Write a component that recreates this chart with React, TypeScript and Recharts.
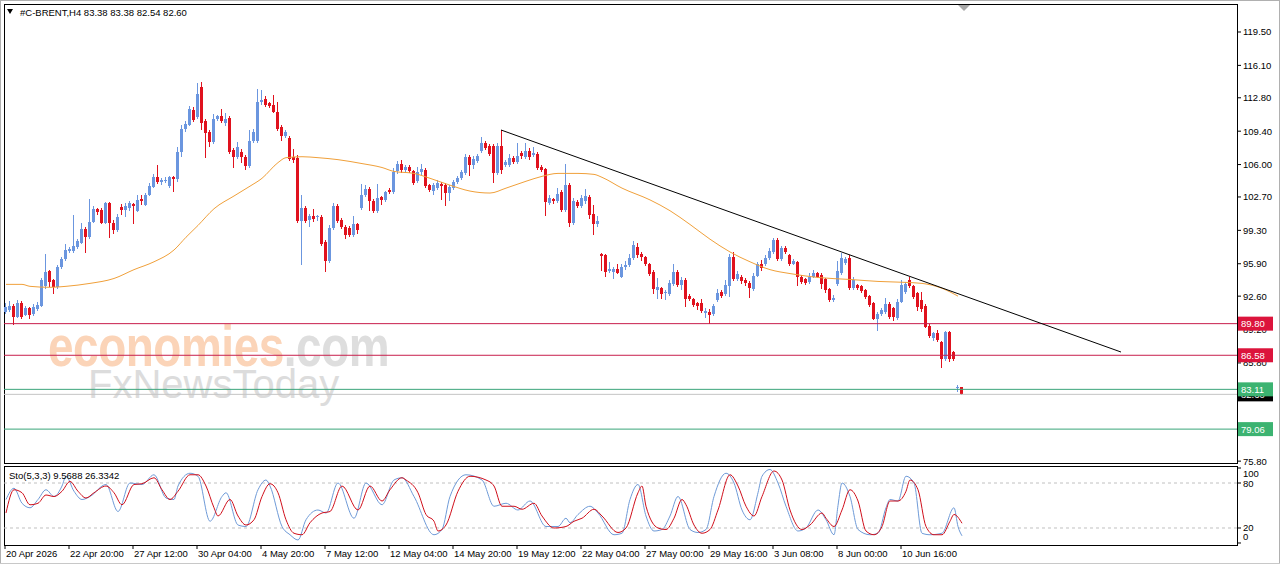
import React from 'react';
import { ComposedChart, Bar, Line, XAxis, YAxis, ReferenceLine } from 'recharts';

// #C-BRENT H4 candles: [open, high, low, close]
const candles: number[][] = [
  [91.0, 91.9, 90.8, 91.5], [91.2, 92.1, 91.0, 91.6], [91.6, 91.8, 89.7, 90.5], [90.5, 92.2, 90.4, 91.9],
  [91.9, 92.1, 90.3, 90.5], [90.7, 91.6, 90.6, 91.4], [91.4, 91.5, 90.3, 90.7], [90.8, 91.8, 90.6, 91.5],
  [91.3, 92.0, 91.1, 91.7], [91.6, 94.4, 91.5, 94.2], [93.6, 96.9, 93.3, 95.1], [95.2, 95.3, 93.5, 94.0],
  [94.2, 94.3, 92.8, 93.5], [93.5, 95.8, 93.3, 95.6], [95.6, 96.6, 95.4, 96.4], [96.4, 97.9, 96.2, 97.3],
  [97.2, 97.6, 97.0, 97.4], [97.2, 100.9, 97.0, 97.7], [97.6, 98.4, 97.4, 98.2], [98.0, 100.0, 97.9, 99.4],
  [99.4, 99.6, 97.0, 98.6], [98.6, 102.5, 98.4, 100.2], [100.2, 101.8, 100.0, 101.5], [101.5, 101.6, 100.9, 101.2],
  [101.4, 101.6, 99.9, 100.1], [100.1, 102.2, 99.9, 102.1], [102.1, 102.2, 98.5, 100.1], [100.1, 100.4, 98.9, 99.3],
  [99.3, 101.0, 99.1, 100.7], [101.7, 102.0, 100.9, 101.4], [101.4, 102.1, 100.7, 101.8], [101.6, 102.3, 101.3, 102.1],
  [102.0, 102.1, 99.9, 101.8], [101.3, 102.9, 101.2, 102.4], [102.5, 102.9, 101.9, 102.3], [101.9, 103.1, 101.8, 102.9],
  [102.9, 104.1, 102.8, 103.8], [103.7, 105.0, 103.6, 104.7], [104.7, 106.0, 104.0, 104.2], [104.2, 104.6, 103.9, 104.4],
  [104.3, 104.7, 104.1, 104.4], [103.8, 104.8, 103.6, 104.7], [104.7, 104.8, 103.2, 104.5], [104.5, 107.8, 104.2, 107.3],
  [107.3, 110.0, 106.8, 109.6], [109.6, 110.4, 109.3, 110.1], [110.0, 112.0, 109.9, 111.7], [111.6, 111.9, 110.3, 110.5],
  [110.8, 114.3, 110.6, 113.2], [113.9, 114.4, 109.5, 110.2], [110.4, 110.6, 106.7, 109.2], [109.3, 109.5, 107.8, 108.3],
  [108.3, 111.1, 108.1, 110.6], [110.6, 111.0, 110.4, 110.9], [110.9, 111.7, 110.2, 110.4], [110.2, 111.2, 109.9, 110.6],
  [110.7, 110.9, 107.1, 107.3], [107.5, 107.7, 105.6, 106.8], [106.8, 108.3, 106.6, 107.8], [107.3, 107.6, 106.2, 106.8],
  [106.8, 107.0, 105.4, 105.9], [105.9, 109.5, 105.7, 108.4], [108.4, 109.6, 108.2, 109.3], [108.4, 113.7, 108.2, 112.4],
  [112.4, 113.6, 112.1, 112.6], [112.7, 113.0, 111.9, 112.1], [112.3, 112.4, 111.8, 112.0], [112.1, 113.1, 111.2, 111.4],
  [111.4, 112.4, 109.4, 109.6], [109.8, 110.0, 108.4, 108.9], [108.9, 109.5, 108.7, 109.3], [108.7, 108.9, 106.4, 106.6],
  [106.8, 107.6, 106.2, 106.5], [106.7, 107.0, 100.1, 100.3], [100.3, 102.9, 95.8, 101.6], [101.6, 101.8, 100.0, 100.3],
  [100.4, 101.0, 99.6, 100.8], [100.8, 101.5, 100.2, 100.5], [100.7, 100.9, 100.3, 100.8], [100.7, 100.9, 97.7, 97.9],
  [98.1, 98.3, 95.1, 96.2], [96.2, 99.8, 96.0, 99.5], [99.5, 102.1, 99.3, 101.8], [101.8, 102.0, 100.1, 100.3],
  [100.4, 100.6, 99.4, 99.6], [99.6, 99.8, 98.4, 98.8], [99.5, 99.7, 98.6, 98.8], [98.8, 100.8, 98.6, 99.9],
  [99.9, 100.1, 98.9, 99.3], [101.6, 104.0, 101.4, 102.9], [102.9, 103.9, 102.7, 103.5], [103.5, 103.7, 101.3, 102.3],
  [102.3, 102.5, 101.1, 101.3], [101.3, 104.0, 101.1, 102.6], [102.7, 102.8, 101.9, 102.4], [102.4, 103.3, 102.2, 103.2],
  [103.4, 103.6, 103.0, 103.2], [103.2, 105.6, 103.0, 105.2], [105.3, 106.4, 105.0, 106.1], [106.1, 106.5, 105.1, 105.4],
  [105.4, 106.0, 105.2, 105.8], [105.8, 106.0, 105.1, 105.3], [105.3, 105.4, 103.9, 104.1], [104.3, 105.8, 104.1, 105.2],
  [105.2, 106.1, 104.9, 105.5], [105.4, 105.7, 103.6, 103.8], [103.9, 104.0, 103.2, 103.4], [103.3, 104.1, 102.9, 103.9],
  [103.6, 104.4, 103.4, 104.1], [104.0, 104.2, 102.4, 103.8], [103.9, 104.1, 101.8, 103.1], [103.1, 103.9, 102.3, 103.7],
  [103.6, 104.4, 103.4, 104.2], [104.2, 104.8, 104.0, 104.6], [104.6, 105.4, 104.4, 105.2], [105.1, 107.1, 104.9, 106.8],
  [106.8, 107.0, 104.8, 106.0], [106.0, 106.9, 105.5, 106.6], [106.4, 107.1, 106.2, 106.9], [107.4, 108.8, 107.2, 108.2],
  [108.2, 108.4, 107.5, 107.7], [107.9, 108.1, 106.9, 107.1], [107.9, 108.1, 104.1, 105.1], [105.1, 108.2, 104.9, 107.9],
  [107.9, 109.5, 105.0, 105.4], [106.0, 106.5, 105.8, 106.3], [106.0, 107.1, 105.8, 106.7], [106.7, 106.9, 106.1, 106.3],
  [106.3, 108.2, 106.1, 106.9], [107.2, 107.4, 106.6, 106.9], [106.8, 108.2, 106.6, 107.4], [107.4, 107.7, 106.5, 106.8],
  [107.0, 107.8, 106.8, 107.2], [107.1, 107.3, 105.4, 105.7], [105.8, 106.0, 105.2, 105.4], [105.5, 105.7, 100.8, 102.2],
  [102.1, 102.9, 101.9, 102.6], [102.5, 102.6, 102.0, 102.3], [102.3, 103.6, 102.1, 103.0], [103.2, 103.4, 101.2, 101.4],
  [101.4, 106.1, 101.2, 103.9], [103.9, 104.1, 99.6, 100.0], [100.0, 102.6, 99.8, 102.3], [102.2, 102.4, 101.6, 101.8],
  [101.8, 102.9, 101.6, 102.6], [102.3, 103.5, 102.0, 102.8], [102.7, 102.9, 100.5, 100.9], [101.0, 101.9, 98.8, 99.9],
  [99.9, 100.8, 99.6, 100.3], [96.9, 97.0, 95.2, 96.7], [96.8, 96.9, 94.5, 95.1], [95.2, 96.1, 95.0, 95.4],
  [95.1, 95.6, 94.3, 95.4], [95.4, 95.9, 94.9, 95.0], [94.6, 95.9, 94.4, 95.6], [95.6, 96.2, 95.3, 95.8],
  [95.8, 96.9, 95.6, 96.5], [96.5, 98.2, 96.3, 97.8], [97.6, 98.0, 96.5, 96.8], [96.9, 97.1, 96.2, 96.6],
  [96.6, 96.7, 95.7, 95.9], [95.9, 96.0, 94.7, 94.9], [95.1, 95.3, 92.8, 93.3], [93.2, 94.4, 92.3, 93.5],
  [93.4, 93.5, 92.3, 92.8], [92.9, 93.2, 92.2, 93.0], [92.8, 94.2, 92.6, 93.9], [93.8, 95.9, 93.6, 95.1],
  [95.1, 95.3, 93.5, 93.7], [93.7, 94.5, 93.2, 94.2], [94.2, 94.4, 91.5, 92.3], [92.6, 92.8, 92.1, 92.3],
  [92.3, 92.4, 91.5, 91.7], [91.9, 92.0, 91.2, 91.6], [91.9, 92.3, 90.9, 91.1], [90.9, 91.4, 90.4, 91.1],
  [91.0, 91.3, 89.8, 90.7], [90.8, 91.8, 90.6, 91.6], [92.2, 93.3, 92.0, 92.9], [93.0, 93.2, 92.4, 92.6],
  [92.8, 94.2, 92.6, 93.7], [93.6, 96.9, 92.5, 96.6], [96.6, 97.1, 94.1, 94.3], [94.3, 95.2, 94.1, 94.9],
  [94.6, 94.8, 93.8, 94.1], [94.2, 94.4, 93.6, 93.9], [93.9, 94.1, 92.4, 93.4], [93.3, 95.0, 93.1, 94.7],
  [94.7, 96.1, 94.5, 95.9], [95.9, 96.3, 95.2, 95.5], [95.9, 96.8, 95.7, 96.5], [96.5, 97.5, 96.3, 97.2],
  [97.1, 98.5, 96.9, 98.3], [98.3, 98.5, 96.2, 96.4], [96.4, 97.7, 96.2, 97.5], [97.5, 97.7, 96.9, 97.1],
  [96.8, 96.9, 95.7, 95.9], [95.9, 96.4, 95.8, 96.2], [96.1, 96.2, 93.6, 94.6], [94.6, 94.8, 93.8, 94.0],
  [94.3, 94.4, 93.7, 93.9], [94.0, 95.0, 93.8, 94.6], [94.6, 95.3, 94.4, 95.0], [95.0, 95.1, 94.4, 94.6],
  [94.8, 95.0, 93.3, 93.8], [94.3, 94.4, 92.9, 93.2], [93.3, 93.4, 92.0, 92.2], [92.2, 92.7, 92.0, 92.4],
  [93.8, 96.2, 93.6, 95.2], [95.0, 97.0, 94.8, 96.5], [96.0, 96.6, 95.8, 96.4], [96.5, 96.8, 93.2, 93.4],
  [93.4, 94.5, 93.2, 94.2], [93.7, 93.8, 93.2, 93.4], [93.6, 93.7, 92.9, 93.1], [93.2, 93.3, 92.3, 92.5],
  [92.6, 92.7, 91.5, 91.7], [91.9, 92.0, 90.2, 90.3], [90.3, 91.0, 89.1, 90.8], [90.8, 91.4, 90.6, 91.2],
  [91.0, 92.4, 90.8, 91.8], [91.8, 92.0, 90.3, 90.5], [91.4, 91.5, 90.1, 90.5], [90.4, 92.3, 90.2, 92.0],
  [92.0, 94.2, 91.9, 93.7], [93.0, 94.0, 92.8, 93.8], [94.2, 94.5, 93.4, 93.6], [93.6, 93.7, 92.3, 92.5],
  [92.9, 93.0, 91.1, 91.5], [92.2, 93.0, 91.0, 91.3], [91.6, 91.8, 89.4, 89.5], [89.6, 89.8, 88.3, 88.5],
  [88.3, 89.0, 88.0, 88.8], [88.8, 89.2, 87.9, 88.1], [87.9, 88.0, 85.3, 86.2], [86.2, 89.1, 86.0, 89.0],
  [89.0, 89.1, 85.9, 86.2], [86.9, 87.0, 86.0, 86.2], [83.2, 83.6, 82.8, 83.4], [83.38, 83.38, 82.54, 82.6],
];

// moving average, read at [bar, value]
const maPoints: number[][] = [
  [0, 93.8], [4, 93.8], [6, 93.6], [11, 93.5], [15, 93.6], [21, 93.9], [27, 94.4], [32, 95.3],
  [37, 96.1], [42, 97.3], [45, 98.6], [48, 99.8], [52, 101.5], [57, 102.8], [61, 103.8], [64, 104.6],
  [68, 106.2], [70, 106.7], [74, 106.8], [78, 106.7], [83, 106.5], [89, 106.1], [94, 105.7], [97, 105.3],
  [102, 105.1], [106, 104.6], [111, 103.9], [116, 103.3], [121, 103.1], [125, 103.6], [130, 104.3], [134, 104.8],
  [138, 105.1], [143, 105.1], [147, 105.0], [149, 104.7], [154, 103.6], [161, 102.4], [166, 101.3], [171, 99.9],
  [176, 98.4], [181, 97.1], [186, 96.1], [191, 95.3], [196, 94.9], [203, 94.5], [211, 94.3], [218, 94.1],
  [225, 94.0], [229, 93.9], [234, 93.4], [238, 92.6],
];

// Sto(5,3,3) main line, [bar, value]
const stochMain: number[][] = [
  [0, 58], [2, 73], [4, 53], [6, 47], [8, 58], [10, 71], [12, 62], [14, 76], [15, 89], [17, 69], [19, 58],
  [21, 62], [25, 78], [28, 42], [31, 80], [34, 78], [37, 91], [40, 60], [42, 58], [43, 76], [46, 93], [48, 89],
  [51, 29], [54, 62], [55, 67], [58, 24], [60, 22], [63, 71], [65, 84], [66, 76], [69, 22], [71, 11], [73, 4],
  [75, 31], [78, 44], [80, 40], [83, 80], [87, 33], [90, 80], [94, 51], [97, 84], [99, 87], [102, 62], [107, 11],
  [109, 18], [111, 62], [115, 91], [119, 84], [122, 49], [125, 53], [128, 44], [131, 56], [135, 22], [138, 22],
  [140, 33], [141, 27], [143, 38], [146, 49], [148, 40], [152, 11], [154, 13], [156, 58], [158, 78], [160, 36],
  [162, 16], [164, 18], [166, 36], [168, 62], [171, 18], [173, 14], [175, 18], [177, 62], [180, 93], [182, 80],
  [184, 44], [186, 31], [188, 67], [189, 89], [191, 98], [193, 80], [195, 49], [198, 16], [200, 20], [203, 44],
  [205, 31], [207, 11], [208, 50], [209, 80], [211, 62], [213, 18], [216, 11], [218, 13], [220, 47], [221, 58],
  [223, 56], [225, 89], [227, 80], [229, 13], [231, 11], [234, 13], [237, 47], [238, 22], [239, 9.5688],
];

// Sto(5,3,3) signal line, [bar, value]
const stochSignal: number[][] = [
  [0, 40], [2, 71], [4, 67], [6, 51], [8, 53], [10, 64], [12, 62], [14, 69], [16, 82], [18, 69], [20, 60],
  [22, 67], [25, 76], [27, 67], [29, 51], [32, 78], [34, 79], [37, 87], [39, 71], [41, 58], [43, 69], [46, 91],
  [48, 91], [50, 76], [52, 47], [53, 36], [56, 58], [58, 36], [60, 24], [62, 31], [64, 62], [66, 79], [68, 67],
  [70, 31], [72, 13], [74, 11], [76, 27], [79, 40], [81, 42], [84, 76], [88, 44], [91, 76], [94, 56], [96, 71],
  [99, 87], [100, 84], [103, 67], [105, 38], [107, 29], [108, 16], [110, 24], [113, 69], [116, 89], [120, 84],
  [122, 76], [124, 49], [127, 49], [129, 45], [132, 53], [134, 36], [137, 20], [140, 22], [142, 29], [144, 33],
  [147, 45], [149, 36], [153, 14], [155, 20], [158, 67], [159, 76], [160, 49], [163, 20], [165, 18], [167, 33],
  [169, 58], [170, 51], [172, 24], [174, 13], [176, 18], [178, 44], [181, 91], [183, 76], [185, 49], [187, 36],
  [189, 62], [192, 96], [194, 84], [196, 44], [199, 18], [201, 24], [204, 40], [205, 33], [207, 22], [209, 44],
  [211, 71], [213, 56], [215, 16], [217, 11], [219, 22], [221, 56], [223, 56], [225, 69], [226, 84], [228, 71],
  [230, 22], [232, 11], [234, 11], [236, 29], [237, 38], [239, 26.3342],
];

const timeTicks = [0, 16, 32, 48, 64, 80, 96, 112, 128, 144, 160, 176, 192, 208, 224];
const timeLabels = [
  '20 Apr 2026', '22 Apr 20:00', '27 Apr 12:00', '30 Apr 04:00', '4 May 20:00', '7 May 12:00',
  '12 May 04:00', '14 May 20:00', '19 May 12:00', '22 May 04:00', '27 May 00:00', '29 May 16:00',
  '3 Jun 08:00', '8 Jun 00:00', '10 Jun 16:00',
];
const priceTicks = [119.5, 116.1, 112.8, 109.4, 106.0, 102.7, 99.3, 95.9, 92.6, 89.2, 85.8, 82.5, 79.1, 75.8];
const resistanceLevels = [89.8, 86.58];
const supportLevels = [83.11, 79.06];
const lastPrice = 82.6;
const trendLine = [[123.75, 109.52], [278.75, 86.91]];
const stochTicks = [0, 20, 80, 100];

const rows = candles.map((c, i) => ({
  i, o: c[0], h: c[1], l: c[2], c: c[3],
  ma: null as number | null, k: null as number | null, d: null as number | null,
}));
maPoints.forEach(([i, v]) => { rows[i].ma = v; });
stochMain.forEach(([i, v]) => { rows[i].k = v; });
stochSignal.forEach(([i, v]) => { rows[i].d = v; });

const FONT = '"Liberation Sans", Arial, sans-serif';
const BULL = '#6b96df';
const BEAR = '#e0121e';
const X_DOMAIN: [number, number] = [-0.5, 307.75];
const PRICE_DOMAIN: [number, number] = [75.61, 122.35];
const MAIN_MARGIN = { top: 4, right: 0, left: 4, bottom: 7 };

const Candle = (props: any) => {
  const { x, y, width, height, payload } = props;
  if (!payload || height == null || isNaN(y)) return null;
  const { o, h, l, c } = payload;
  const k = height / (h - l || 1);
  const py = (v: number) => y + (h - v) * k;
  const cx = Math.floor(x + width / 2);
  const color = c >= o ? BULL : BEAR;
  const top = py(Math.max(o, c));
  const bot = py(Math.min(o, c));
  return (
    <g shapeRendering="crispEdges">
      <rect x={cx} y={y} width={1} height={Math.max(height, 1)} fill={color} />
      <rect x={cx - 1} y={top} width={3} height={Math.max(bot - top, 1)} fill={color} />
    </g>
  );
};

const PriceTick = ({ x, y, payload }: any) => (
  <g>
    <line x1={x} x2={x + 4} y1={y} y2={y} stroke="#000" />
    <text x={x + 6} y={y + 3.5} fontSize={9.5} fontFamily={FONT} fill="#000">
      {Number(payload.value).toFixed(2)}
    </text>
  </g>
);

const StochTick = ({ x, y, payload }: any) => {
  const v = payload.value;
  const dy = v === 100 ? 5 : v === 0 ? -6 : 0;
  return (
    <g>
      <line x1={x} x2={x + 4} y1={y} y2={y} stroke="#000" />
      <text x={x + 6} y={y + dy + 3.5} fontSize={9.5} fontFamily={FONT} fill="#000">{v}</text>
    </g>
  );
};

const TimeTick = ({ x, y, payload }: any) => {
  const idx = timeTicks.indexOf(payload.value);
  return (
    <g>
      <line x1={x - 1} x2={x - 1} y1={y} y2={y + 4} stroke="#000" />
      <text x={x} y={y + 12} fontSize={9.5} fontFamily={FONT} fill="#000">{timeLabels[idx]}</text>
    </g>
  );
};

const tag = (text: string, bg: string) => (props: any) => {
  const vb = props.viewBox;
  if (!vb) return null;
  const left = vb.x + vb.width + 1;
  return (
    <g>
      <rect x={left} y={vb.y - 7} width={35} height={14} fill={bg} />
      <text x={left + 3} y={vb.y + 3.5} fontSize={9.5} fontFamily={FONT} fill="#fff">{text}</text>
    </g>
  );
};

export default function App() {
  return (
    <div style={{ position: 'fixed', left: 0, top: 0, width: 1280, height: 567, background: '#fff', overflow: 'hidden' }}>
      {/* watermarks */}
      <div style={{ position: 'absolute', left: 48, top: 312, fontFamily: FONT, fontWeight: 700, fontSize: 46, transform: 'scaleY(1.25)', transformOrigin: 'left top', whiteSpace: 'nowrap', letterSpacing: -0.5 }}>
        <span style={{ color: '#fbd4b8' }}>economies</span>
        <span style={{ color: '#dedede' }}>.com</span>
      </div>
      <div style={{ position: 'absolute', left: 88, top: 362, fontFamily: FONT, fontSize: 40, color: '#dcdcdc', whiteSpace: 'nowrap' }}>
        FxNewsToday
      </div>

      {/* panel frames */}
      <div style={{ position: 'absolute', left: 0, top: 0, width: 1280, height: 564, boxSizing: 'border-box', border: '1px solid #b0b0b0' }} />
      <div style={{ position: 'absolute', left: 4, top: 4, width: 1234, height: 460, boxSizing: 'border-box', border: '1px solid #000' }} />
      <div style={{ position: 'absolute', left: 4, top: 466, width: 1234, height: 80, boxSizing: 'border-box', border: '1px solid #000' }} />

      {/* price scale, drawn beneath the level tags */}
      <div style={{ position: 'absolute', left: 0, top: 0 }}>
        <ComposedChart width={1280} height={470} data={rows} margin={MAIN_MARGIN}>
          <XAxis type="number" dataKey="i" domain={X_DOMAIN} hide allowDataOverflow />
          <YAxis
            orientation="right" width={43} domain={PRICE_DOMAIN} ticks={priceTicks} interval={0}
            tick={<PriceTick />} tickSize={0} tickMargin={0} axisLine={false} tickLine={false} allowDataOverflow
          />
        </ComposedChart>
      </div>

      <div style={{ position: 'absolute', left: 0, top: 0 }}>
        <ComposedChart width={1280} height={470} data={rows} margin={MAIN_MARGIN}>
          <XAxis type="number" dataKey="i" domain={X_DOMAIN} hide allowDataOverflow />
          <YAxis orientation="right" width={43} domain={PRICE_DOMAIN} tick={false} axisLine={false} tickLine={false} allowDataOverflow />
          <ReferenceLine y={resistanceLevels[0]} stroke="#c81e4c" label={tag('89.80', '#dc143c')} />
          <ReferenceLine y={resistanceLevels[1]} stroke="#c81e4c" label={tag('86.58', '#dc143c')} />
          <ReferenceLine y={lastPrice} stroke="#c4c4c4" label={tag('82.60', '#000')} />
          <ReferenceLine y={supportLevels[0]} stroke="#3aa57a" label={tag('83.11', '#3cb371')} />
          <ReferenceLine y={supportLevels[1]} stroke="#3aa57a" label={tag('79.06', '#3cb371')} />
          <Line dataKey="ma" type="monotone" stroke="#f0a03a" strokeWidth={1} dot={false} connectNulls isAnimationActive={false} />
          <Bar dataKey={(d: any) => [d.l, d.h]} barSize={3} shape={<Candle />} isAnimationActive={false} />
          <ReferenceLine
            segment={[{ x: trendLine[0][0], y: trendLine[0][1] }, { x: trendLine[1][0], y: trendLine[1][1] }]}
            stroke="#000" strokeWidth={1}
          />
        </ComposedChart>
      </div>

      <div style={{ position: 'absolute', left: 0, top: 466 }}>
        <ComposedChart width={1280} height={101} data={rows} margin={{ top: 0, right: 0, left: 4, bottom: 0 }}>
          <XAxis
            type="number" dataKey="i" domain={X_DOMAIN} ticks={timeTicks} interval={0} height={22}
            tick={<TimeTick />} tickSize={0} tickMargin={0} axisLine={false} tickLine={false} allowDataOverflow
          />
          <YAxis
            orientation="right" width={43} domain={[-2.67, 102.67]} ticks={stochTicks} interval={0}
            tick={<StochTick />} tickSize={0} tickMargin={0} axisLine={false} tickLine={false} allowDataOverflow
          />
          <ReferenceLine y={80} stroke="#c0c0c0" strokeDasharray="3 3" />
          <ReferenceLine y={20} stroke="#c0c0c0" strokeDasharray="3 3" />
          <Line dataKey="k" type="monotone" stroke="#6f9bd8" strokeWidth={1} dot={false} connectNulls isAnimationActive={false} />
          <Line dataKey="d" type="monotone" stroke="#d0101c" strokeWidth={1} dot={false} connectNulls isAnimationActive={false} />
        </ComposedChart>
      </div>

      {/* header and indicator caption */}
      <svg style={{ position: 'absolute', left: 0, top: 0 }} width={1280} height={567} pointerEvents="none">
        <polygon points="7,9 13,9 10,14" fill="#000" />
        <text x={20} y={16} fontSize={9.5} fontFamily={FONT} fill="#000">#C-BRENT,H4  83.38 83.38 82.54 82.60</text>
        <polygon points="958,5 970,5 964,11" fill="#a8a8a8" />
        <text x={9} y={479} fontSize={9.5} fontFamily={FONT} fill="#000">Sto(5,3,3) 9.5688 26.3342</text>
        <line x1={0} x2={1280} y1={563.5} y2={563.5} stroke="#c8c8c8" />
      </svg>
    </div>
  );
}
